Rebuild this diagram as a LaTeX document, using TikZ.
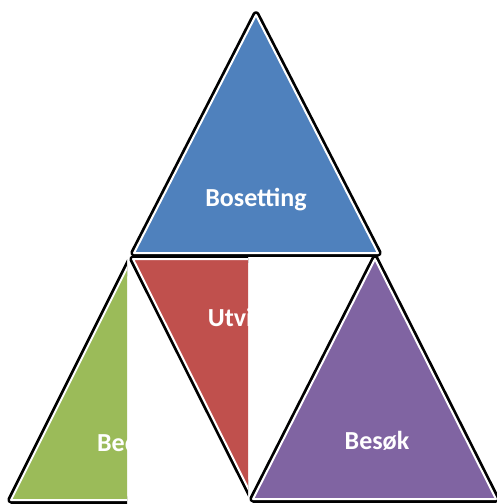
\documentclass[tikz,border=0pt]{standalone}
\usepackage{fontspec}
\setmainfont{Carlito}
\definecolor{tblue}{HTML}{4F81BD}
\definecolor{tred}{HTML}{C0504D}
\definecolor{tgreen}{HTML}{9BBB59}
\definecolor{tpurple}{HTML}{8064A2}

\begin{document}
\begin{tikzpicture}[
  x=1pt,
  y=-1pt,
  line join=round,
  tri/.style={
     fill=#1,
     draw=white,
     line width=2pt,
     preaction={draw=black, line width=7.5pt},
  },
  word/.style={
     text=white,
     font=\fontsize{26}{30}\selectfont\bfseries,
  },
]
   \useasboundingbox (0,0) rectangle (496,504);
   % top
   \draw[tri=tblue] (256,15) -- (378,253) -- (134,253) -- cycle;
   \node[word] (bos) at (256,200) {Bosetting};
   % left, cut off
   \begin{scope}
      \clip (0,0) rectangle (127,504);
      \draw[tri=tgreen] (131,260) -- (253,500) -- (11,500) -- cycle;
      \node[word] (bed) at (134,442) {Bedrift};
   \end{scope}
   % middle, cut off
   \begin{scope}
      \clip (127,0) rectangle (248,504);
      \draw[tri=tred] (133,259) -- (375,259) -- (253,498) -- cycle;
      \node[word] (utv) at (256,320) {Utvikling};
   \end{scope}
   % right
   \draw[tri=tpurple] (375,259) -- (496,499) -- (253,499) -- cycle;
   \node[word] (bes) at (377,441) {Besøk};
\end{tikzpicture}
\end{document}
